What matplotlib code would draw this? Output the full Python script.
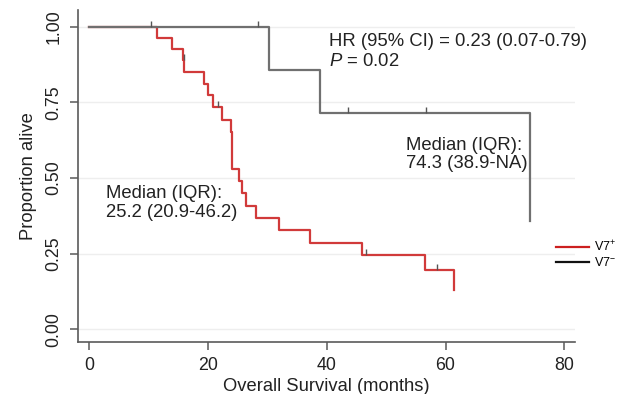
import matplotlib
matplotlib.use("Agg")
import matplotlib.pyplot as plt
from matplotlib.lines import Line2D

plt.rcParams["font.family"] = ["Liberation Sans", "DejaVu Sans"]
plt.rcParams["mathtext.fontset"] = "custom"
plt.rcParams["mathtext.rm"] = "Liberation Sans"
plt.rcParams["mathtext.it"] = "Liberation Sans:italic"

# Kaplan-Meier steps
red_t = [0, 11.4, 13.9, 15.7, 16.0, 19.4, 20.0, 20.8, 22.3, 23.8, 24.1,
         25.2, 25.7, 26.4, 28.1, 32.0, 37.2, 46.0, 56.6, 61.4]
red_s = [1.0, 0.963, 0.926, 0.889, 0.850, 0.812, 0.773, 0.734, 0.693, 0.653,
         0.530, 0.490, 0.449, 0.408, 0.367, 0.327, 0.286, 0.245, 0.196, 0.131]
red_cens_t = [15.9, 21.7, 46.6, 58.5]
red_cens_s = [0.889, 0.734, 0.245, 0.196]

gray_t = [0, 30.3, 38.9, 74.3]
gray_s = [1.0, 0.857, 0.714, 0.357]
gray_cens_t = [10.4, 28.4, 43.6, 56.7]
gray_cens_s = [1.0, 1.0, 0.714, 0.714]

x_ticks = [0, 20, 40, 60, 80]
y_ticks = [0.0, 0.25, 0.50, 0.75, 1.0]
y_ticklabels = ["0.00", "0.25", "0.50", "0.75", "1.00"]

red = "#d13a3a"
gray = "#707070"
axis_col = "#5a5a5a"

fig = plt.figure(figsize=(6.22, 3.94), dpi=100)
ax = fig.add_axes([78 / 622, 1 - 342 / 394, 497 / 622, 332 / 394])

for y in y_ticks:
    ax.axhline(y, color="#eeeeee", lw=1, zorder=0)

ax.step(red_t, red_s, where="post", color=red, lw=1.6, zorder=2)
ax.vlines(red_cens_t, red_cens_s, [s + 0.02 for s in red_cens_s], color="#555555", lw=1, zorder=3)
ax.step(gray_t, gray_s, where="post", color=gray, lw=1.6, zorder=3)
ax.vlines(gray_cens_t, gray_cens_s, [s + 0.02 for s in gray_cens_s], color="#555555", lw=1, zorder=3)

ax.set_xlim(-1.9, 81.8)
ax.set_ylim(-0.042, 1.055)
ax.set_xticks(x_ticks)
ax.set_yticks(y_ticks)
ax.set_yticklabels(y_ticklabels, rotation=90, va="center")
ax.tick_params(axis="both", direction="out", length=6, width=1.1, color=axis_col,
               labelsize=12.8, labelcolor="#222222", pad=5)
for side in ["top", "right"]:
    ax.spines[side].set_visible(False)
for side in ["left", "bottom"]:
    ax.spines[side].set_color(axis_col)
    ax.spines[side].set_linewidth(1.2)

ax.set_xlabel("Overall Survival (months)", fontsize=13.2, color="#222222", labelpad=3)
ax.set_ylabel("Proportion alive", fontsize=13.2, color="#222222", labelpad=6)

txt = dict(fontsize=13.3, color="#222222", va="baseline", ha="left")
ax.text(40.4, 0.936, "HR (95% CI) = 0.23 (0.07-0.79)", **txt)
ax.text(40.4, 0.869, "$P$ = 0.02", **txt)
ax.text(53.4, 0.592, "Median (IQR):", **txt)
ax.text(53.4, 0.532, "74.3 (38.9-NA)", **txt)
ax.text(2.8, 0.433, "Median (IQR):", **txt)
ax.text(2.8, 0.372, "25.2 (20.9-46.2)", **txt)

handles = [Line2D([], [], color="#cc1f1f", lw=1.6),
           Line2D([], [], color="#111111", lw=1.6)]
fig.legend(handles, ["V7$^{+}$", "V7$^{-}$"], loc="upper left",
           bbox_to_anchor=(556 / 622, 1 - 239 / 394), frameon=False,
           fontsize=9, handlelength=2.6, handletextpad=0.4,
           labelspacing=0.15, borderpad=0, borderaxespad=0)

fig.savefig("out.png", dpi=100)
